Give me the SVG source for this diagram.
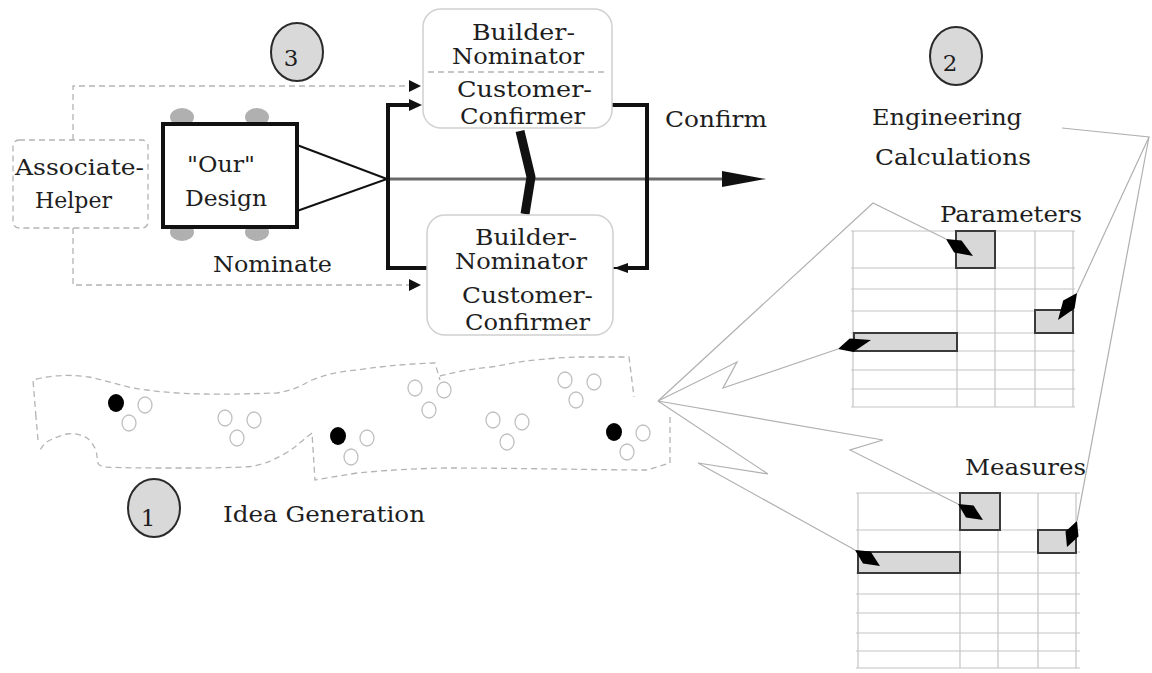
<svg xmlns="http://www.w3.org/2000/svg" width="1152" height="673" viewBox="0 0 1152 673">
  <defs>
    <style>
      .t { font-family: "DejaVu Serif", "Liberation Serif", serif; font-size: 23px; fill: #1e1e1e; }
      .dash { fill: none; stroke: #b4b4b4; stroke-width: 1.3; stroke-dasharray: 6 4; }
      .thick { fill: none; stroke: #111; stroke-width: 4; }
      .thin { fill: none; stroke: #b0b0b0; stroke-width: 1.2; }
      .grid { stroke: #c4c4c4; stroke-width: 1.2; }
      .cell { fill: #d8d8d8; stroke: #3a3a3a; stroke-width: 2; }
      .role { fill: #fff; stroke: #d0d0d0; stroke-width: 1.5; }
      .badge { fill: #d9d9d9; stroke: #2a2a2a; stroke-width: 2; }
      .ring { fill: none; stroke: #c0c0c0; stroke-width: 1.3; }
      .tab { fill: #b0b0b0; }
    </style>
  </defs>
  <rect width="1152" height="673" fill="#fff"/>

  <!-- numbered badges -->
  <g id="badge-3"><ellipse class="badge" cx="297" cy="52" rx="26" ry="29"/><text class="t" x="291" y="66" text-anchor="middle">3</text></g>
  <g id="badge-2"><ellipse class="badge" cx="956" cy="56" rx="26" ry="29"/><text class="t" x="950" y="71" text-anchor="middle">2</text></g>
  <g id="badge-1"><ellipse class="badge" cx="154" cy="508" rx="26" ry="29"/><text class="t" x="148" y="526" text-anchor="middle">1</text></g>

  <!-- connectors -->
  <g id="connectors">
    <!-- dashed helper loops -->
    <polyline class="dash" points="73,140 73,86 410,86"/>
    <polyline class="dash" points="73,228 73,285 410,285"/>
    <polygon points="421,86 409,80 409,92" fill="#111"/>
    <polygon points="421,285 409,279 409,291" fill="#111"/>
    <!-- design fan-in -->
    <polyline points="297,145 387,179 297,211" fill="none" stroke="#111" stroke-width="2"/>
    <!-- main flow -->
    <line x1="387" y1="179" x2="726" y2="179" stroke="#6a6a6a" stroke-width="3"/>
    <polygon points="766,179 722,171 722,187" fill="#111"/>
    <!-- nominate / confirm brackets -->
    <polyline class="thick" points="410,105 388,105 388,268 427,268"/>
    <polygon points="422,105 409,99 409,111" fill="#111"/>
    <polyline class="thick" points="612,105 647,105 647,268 628,268"/>
    <polygon points="614,268 628,263 628,273" fill="#111"/>
    <line x1="612" y1="268" x2="628" y2="268" stroke="#111" stroke-width="2"/>
    <!-- role exchange -->
    <path d="M520,131 L531,177 L525,214" fill="none" stroke="#111" stroke-width="9" stroke-linejoin="round"/>

    <!-- leaders from idea generation -->
    <polyline class="thin" points="658,401 873,203 946,239"/>
    <polyline class="thin" points="658,401 737,362 723,388 838,349"/>
    <polyline class="thin" points="658,401 883,440 850,450 958,504"/>
    <polyline class="thin" points="658,401 768,474 698,463 855,550"/>
    <!-- leaders from engineering calculations -->
    <polyline class="thin" points="1062,128 1149,137 1077,293"/>
    <line class="thin" x1="1149" y1="137" x2="1077" y2="521"/>
  </g>

  <!-- helper node -->
  <g id="associate-helper">
    <rect class="dash" x="13" y="140" width="135" height="88" rx="6"/>
    <text class="t" x="15" y="175" textLength="129" lengthAdjust="spacingAndGlyphs">Associate-</text>
    <text class="t" x="35" y="208" textLength="77" lengthAdjust="spacingAndGlyphs">Helper</text>
  </g>

  <!-- design node -->
  <g id="our-design">
    <ellipse class="tab" cx="182" cy="117" rx="12" ry="9"/>
    <ellipse class="tab" cx="257" cy="117" rx="12" ry="9"/>
    <ellipse class="tab" cx="182" cy="232" rx="12" ry="9"/>
    <ellipse class="tab" cx="257" cy="232" rx="12" ry="9"/>
    <rect x="163" y="124" width="134" height="103" fill="#fff" stroke="#111" stroke-width="4"/>
    <text class="t" x="187" y="172" textLength="68" lengthAdjust="spacingAndGlyphs">"Our"</text>
    <text class="t" x="185" y="206" textLength="82" lengthAdjust="spacingAndGlyphs">Design</text>
  </g>

  <text class="t" x="213" y="272" textLength="119" lengthAdjust="spacingAndGlyphs">Nominate</text>
  <text class="t" x="665" y="127" textLength="102" lengthAdjust="spacingAndGlyphs">Confirm</text>

  <!-- role nodes -->
  <g id="roles-upper">
    <rect class="role" x="423" y="9" width="189" height="119" rx="18"/>
    <line class="dash" x1="428" y1="72" x2="607" y2="72" stroke="#cfcfcf"/>
    <text class="t" x="472" y="40" textLength="103" lengthAdjust="spacingAndGlyphs">Builder-</text>
    <text class="t" x="452" y="64" textLength="132" lengthAdjust="spacingAndGlyphs">Nominator</text>
    <text class="t" x="457" y="97" textLength="135" lengthAdjust="spacingAndGlyphs">Customer-</text>
    <text class="t" x="460" y="124" textLength="125" lengthAdjust="spacingAndGlyphs">Confirmer</text>
  </g>
  <g id="roles-lower">
    <rect class="role" x="427" y="215" width="186" height="120" rx="18"/>
    <text class="t" x="475" y="245" textLength="102" lengthAdjust="spacingAndGlyphs">Builder-</text>
    <text class="t" x="455" y="269" textLength="132" lengthAdjust="spacingAndGlyphs">Nominator</text>
    <text class="t" x="462" y="303" textLength="131" lengthAdjust="spacingAndGlyphs">Customer-</text>
    <text class="t" x="465" y="330" textLength="125" lengthAdjust="spacingAndGlyphs">Confirmer</text>
  </g>

  <!-- engineering calculations -->
  <g id="engineering">
    <text class="t" x="872" y="125" textLength="150" lengthAdjust="spacingAndGlyphs">Engineering</text>
    <text class="t" x="875" y="165" textLength="156" lengthAdjust="spacingAndGlyphs">Calculations</text>
  </g>

  <!-- parameters table -->
  <g id="parameters">
    <text class="t" x="940" y="222" textLength="142" lengthAdjust="spacingAndGlyphs">Parameters</text>
    <g class="grid">
      <line x1="851" y1="231" x2="1075" y2="231"/>
      <line x1="851" y1="268" x2="1075" y2="268"/>
      <line x1="851" y1="289" x2="1075" y2="289"/>
      <line x1="851" y1="311" x2="1075" y2="311"/>
      <line x1="851" y1="333" x2="1075" y2="333"/>
      <line x1="851" y1="351" x2="1075" y2="351"/>
      <line x1="851" y1="370" x2="1075" y2="370"/>
      <line x1="851" y1="389" x2="1075" y2="389"/>
      <line x1="851" y1="407" x2="1075" y2="407"/>
      <line x1="853" y1="231" x2="853" y2="407"/>
      <line x1="957" y1="231" x2="957" y2="407"/>
      <line x1="995" y1="231" x2="995" y2="407"/>
      <line x1="1035" y1="231" x2="1035" y2="407"/>
      <line x1="1073" y1="231" x2="1073" y2="407"/>
    </g>
    <rect class="cell" x="956" y="231" width="39" height="37"/>
    <rect class="cell" x="1035" y="310" width="38" height="23"/>
    <rect class="cell" x="854" y="333" width="103" height="18"/>
    <polygon points="946,239 961.5,240.6 973,256 954.1,252.4" fill="#000"/>
    <polygon points="838,349 849.7,338.5 871,340 853.3,352.1" fill="#000"/>
    <polygon points="1077,293 1074.6,308.5 1058,320 1063.2,300.5" fill="#000"/>
  </g>

  <!-- measures table -->
  <g id="measures">
    <text class="t" x="965" y="475" textLength="121" lengthAdjust="spacingAndGlyphs">Measures</text>
    <g class="grid">
      <line x1="856" y1="493" x2="1080" y2="493"/>
      <line x1="856" y1="530" x2="1080" y2="530"/>
      <line x1="856" y1="552" x2="1080" y2="552"/>
      <line x1="856" y1="573" x2="1080" y2="573"/>
      <line x1="856" y1="594" x2="1080" y2="594"/>
      <line x1="856" y1="613" x2="1080" y2="613"/>
      <line x1="856" y1="633" x2="1080" y2="633"/>
      <line x1="856" y1="651" x2="1080" y2="651"/>
      <line x1="856" y1="668" x2="1080" y2="668"/>
      <line x1="858" y1="493" x2="858" y2="668"/>
      <line x1="960" y1="493" x2="960" y2="668"/>
      <line x1="998" y1="493" x2="998" y2="668"/>
      <line x1="1038" y1="493" x2="1038" y2="668"/>
      <line x1="1076" y1="493" x2="1076" y2="668"/>
    </g>
    <rect class="cell" x="960" y="493" width="40" height="37"/>
    <rect class="cell" x="1038" y="530" width="38" height="23"/>
    <rect class="cell" x="858" y="552" width="102" height="21"/>
    <polygon points="958,504 973.6,505.6 983,520 966,517.4" fill="#000"/>
    <polygon points="855,550 870.6,551.6 880,566 863,563.4" fill="#000"/>
    <polygon points="1077,521 1078.5,536.5 1067,547 1065.5,531.5" fill="#000"/>
  </g>

  <!-- idea generation cloud -->
  <g id="idea-generation">
    <path class="dash" d="M36,417 L33,380 C55,374 75,375 89,377 C110,381 125,388 147,390 C190,396 240,394 277,393 C295,390 300,386 312,380 C330,373 345,371 357,370 C385,366 405,364 435,363 L440,380"/>
    <path class="dash" d="M440,376 C455,372 470,369 491,367 C510,364 520,361 536,360 C555,358 570,357 580,357 L629,357 L634,397"/>
    <path class="dash" d="M670,417 L670,463 L647,470 C600,470 520,468 446,468 C400,469 380,471 357,473 C340,476 325,478 315,480 L312,433"/>
    <path class="dash" d="M312,433 C300,442 295,448 286,453 C270,462 260,466 245,467 C220,468 200,468 179,468 C150,468 125,468 103,467 C99,465 98,464 98,463 C97,458 97,455 96,450 C93,444 90,440 87,438 C80,434 72,433 67,434 C58,436 50,440 45,443 L40,450"/>
    <path class="dash" d="M38,440 L36,417"/>

    <ellipse cx="116" cy="403" rx="8" ry="9" fill="#000"/>
    <ellipse cx="338" cy="436" rx="8" ry="9" fill="#000"/>
    <ellipse cx="614" cy="432" rx="8" ry="9" fill="#000"/>

    <ellipse class="ring" cx="145" cy="405" rx="7" ry="8"/>
    <ellipse class="ring" cx="129" cy="423" rx="7" ry="8"/>
    <ellipse class="ring" cx="225" cy="418" rx="7" ry="8"/>
    <ellipse class="ring" cx="254" cy="420" rx="7" ry="8"/>
    <ellipse class="ring" cx="237" cy="438" rx="7" ry="8"/>
    <ellipse class="ring" cx="367" cy="438" rx="7" ry="8"/>
    <ellipse class="ring" cx="351" cy="457" rx="7" ry="8"/>
    <ellipse class="ring" cx="415" cy="388" rx="7" ry="8"/>
    <ellipse class="ring" cx="444" cy="390" rx="7" ry="8"/>
    <ellipse class="ring" cx="429" cy="410" rx="7" ry="8"/>
    <ellipse class="ring" cx="493" cy="420" rx="7" ry="8"/>
    <ellipse class="ring" cx="522" cy="422" rx="7" ry="8"/>
    <ellipse class="ring" cx="507" cy="442" rx="7" ry="8"/>
    <ellipse class="ring" cx="565" cy="380" rx="7" ry="8"/>
    <ellipse class="ring" cx="594" cy="382" rx="7" ry="8"/>
    <ellipse class="ring" cx="576" cy="400" rx="7" ry="8"/>
    <ellipse class="ring" cx="643" cy="433" rx="7" ry="8"/>
    <ellipse class="ring" cx="627" cy="452" rx="7" ry="8"/>

    <text class="t" x="223" y="522" textLength="202" lengthAdjust="spacingAndGlyphs">Idea Generation</text>
  </g>
</svg>
